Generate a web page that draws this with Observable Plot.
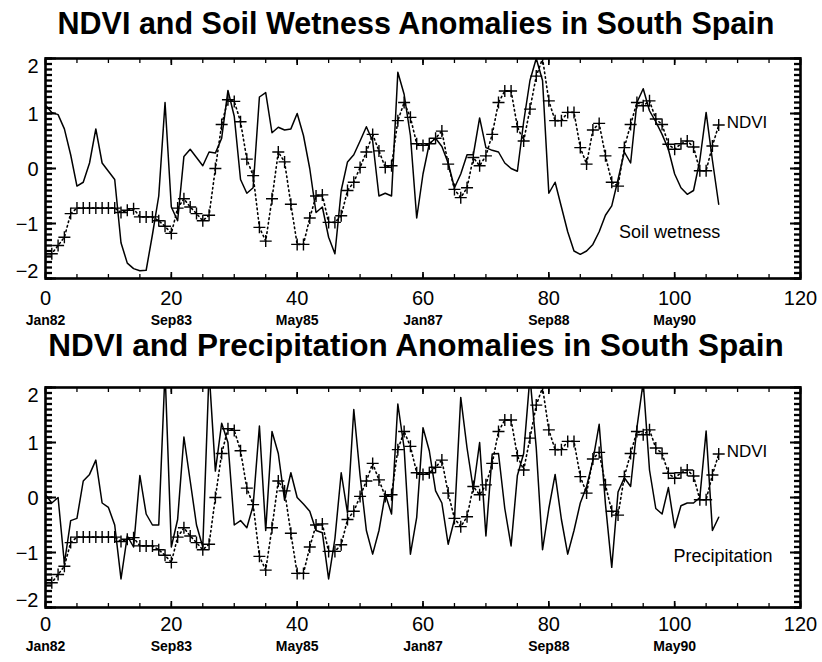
<!DOCTYPE html>
<html><head><meta charset="utf-8">
<script src="https://cdn.jsdelivr.net/npm/d3@7"></script>
<script src="https://cdn.jsdelivr.net/npm/@observablehq/plot@0.6"></script>
<style>
body{margin:0;background:#fff;}
#wrap{position:relative;width:822px;height:662px;overflow:hidden;background:#fff;font-family:"Liberation Sans",Arial,Helvetica,sans-serif;}
.title{position:absolute;left:5px;width:822px;text-align:center;font-weight:bold;color:#000;white-space:nowrap;}
.panel{position:absolute;left:0;}
</style></head><body>
<div id="wrap">
  <div class="title" style="top:8px;font-size:30.5px;line-height:1">NDVI and Soil Wetness Anomalies in South Spain</div>
  <div class="panel" id="p1" style="top:40px"></div>
  <div class="title" style="top:333px;font-size:31.5px;line-height:0.8">NDVI and Precipitation Anomalies in South Spain</div>
  <div class="panel" id="p2" style="top:370px"></div>
</div>
<script>
// month index 0 = Jan82
const ndvi = [-1.55,-1.55,-1.4,-1.25,-0.82,-0.72,-0.72,-0.72,-0.72,-0.72,
  -0.72,-0.72,-0.8,-0.76,-0.73,-0.88,-0.88,-0.88,-0.95,-1.05,
  -1.18,-0.72,-0.55,-0.7,-0.82,-0.95,-0.85,0.0,0.8,1.25,
  1.22,0.85,0.17,-0.13,-1.07,-1.32,-0.55,0.3,0.12,-0.65,
  -1.38,-1.38,-0.9,-0.5,-0.48,-0.98,-0.98,-0.86,-0.4,-0.25,
  0.02,0.3,0.62,0.32,0.02,0.05,0.87,1.2,0.93,0.45,
  0.42,0.45,0.55,0.68,0.08,-0.38,-0.53,-0.35,0.2,0.05,
  0.23,0.62,1.2,1.41,1.41,0.76,0.5,1.08,1.68,2.0,
  1.23,0.87,0.87,1.02,1.02,0.38,0.08,0.7,0.82,0.23,
  -0.25,-0.32,0.38,0.8,1.2,1.14,1.23,0.9,0.8,0.44,
  0.35,0.45,0.5,0.39,-0.04,-0.04,0.41,0.79];
const soilWetness = [1.15,1.02,0.98,0.72,0.25,-0.32,-0.25,0.1,0.72,0.1,
  -0.05,-0.2,-1.35,-1.72,-1.82,-1.86,-1.85,-1.2,-0.5,1.2,
  -0.7,-0.95,0.22,0.35,0.2,0.05,0.3,0.28,0.55,1.42,
  0.95,-0.2,-0.45,-0.35,1.3,1.38,0.65,0.75,0.7,0.72,
  1.0,0.6,0.0,-0.8,-0.7,-1.25,-1.55,-0.4,0.12,0.25,
  0.5,0.76,0.5,-0.5,-0.45,-0.5,1.75,1.35,0.6,-0.9,
  -0.1,0.45,0.55,0.4,0.1,-0.35,-0.1,0.25,0.25,0.92,
  0.38,0.33,0.3,0.1,0.0,-0.05,0.85,1.6,2.0,1.6,
  -0.45,-0.25,-0.7,-1.15,-1.5,-1.56,-1.5,-1.38,-1.15,-0.85,
  -0.68,-0.2,0.3,0.1,1.2,1.45,1.05,0.85,0.62,0.35,
  -0.1,-0.35,-0.47,-0.4,0.15,1.02,0.15,-0.65];
const precipitation = [0.05,-0.1,0.0,-1.2,-0.42,-0.38,0.3,0.42,0.68,-0.1,
  -0.18,-0.5,-1.48,-0.7,-0.9,0.4,-0.3,-0.5,-0.5,2.3,
  -0.9,-0.4,1.1,0.3,-0.5,-0.9,2.3,0.48,1.35,1.0,
  -0.5,-0.42,-0.55,-0.15,1.3,-0.6,1.2,0.8,-0.05,0.45,
  0.0,-0.12,-0.25,-0.6,-0.64,-1.48,-0.75,0.45,-0.28,1.6,
  0.4,-0.6,-1.03,-0.6,0.06,-0.3,1.7,0.9,-1.03,-0.36,
  1.27,0.85,0.12,-0.1,-0.85,-0.4,1.82,0.9,0.15,1.0,
  -0.7,0.79,0.8,-0.2,-0.88,0.4,0.8,2.2,0.9,-0.95,
  -0.2,0.42,-0.4,-1.03,-0.6,-0.1,0.2,0.67,1.33,-0.12,
  -1.27,0.1,0.36,0.2,1.27,2.1,0.5,-0.2,-0.3,0.18,
  -0.55,-0.15,-0.1,-0.1,0.0,1.21,-0.6,-0.36];

const xTicks = [0, 20, 40, 60, 80, 100, 120];
const xTickLabels = ["0", "20", "40", "60", "80", "100", "120"];
const dateTicks = [0, 20, 40, 60, 80, 100];
const dateLabels = ["Jan82", "Sep83", "May85", "Jan87", "Sep88", "May90"];
const yTicks = [-2, -1, 0, 1, 2];
const yTickLabels = ["\u22122", "\u22121", "0", "1", "2"];
const xMinorTicks = d3.range(0, 121, 5);
const yMinorTicks = d3.range(-20, 21).map(i => i / 10);

const thinPlus = {
  draw(ctx, size) {
    const r = Math.sqrt(size / Math.PI);
    ctx.moveTo(-r, 0); ctx.lineTo(r, 0);
    ctx.moveTo(0, -r); ctx.lineTo(0, r);
  }
};

const W = 822, ML = 45, MR = 22;

function inwardTicksY(ticks, size, sw) {
  return ["left", "right"].map(anchor =>
    Plot.axisY(ticks, {anchor, tickSize: -size, tickFormat: () => "", label: null, stroke: "black", strokeWidth: sw}));
}
function inwardTicksX(ticks, size, sw) {
  return ["top", "bottom"].map(anchor =>
    Plot.axisX(ticks, {anchor, tickSize: -size, tickFormat: () => "", label: null, stroke: "black", strokeWidth: sw}));
}

function panel(series, label, labelX, labelY, o) {
  const sData = series.map((v, i) => ({m: i, v}));
  const nData = ndvi.map((v, i) => ({m: i, v}));
  const last = nData[nData.length - 1];
  return Plot.plot({
    width: W, height: o.height,
    marginLeft: ML, marginRight: MR, marginTop: o.marginTop, marginBottom: o.marginBottom,
    x: {domain: [0, 120]},
    y: {domain: [-2, 2]},
    style: {fontFamily: '"Liberation Sans", Arial, Helvetica, sans-serif', background: "white", color: "black", overflow: "visible"},
    marks: [
      // inward minor / major ticks
      ...inwardTicksY(yMinorTicks, 7, 2.3),
      ...inwardTicksY(yTicks, 11, 2),
      ...inwardTicksX(xMinorTicks, 4, 1.3),
      ...inwardTicksX(xTicks, 6, 1.7),
      // series
      Plot.line(sData, {x: "m", y: "v", stroke: "black", strokeWidth: 1.5, clip: true}),
      Plot.line(nData, {x: "m", y: "v", stroke: "black", strokeWidth: 1.6, strokeDasharray: "1.5 3.2", clip: true}),
      Plot.dot(nData, {x: "m", y: "v", symbol: thinPlus, r: 6, fill: "none", stroke: "black", strokeWidth: 1.4, clip: true}),
      Plot.frame({stroke: "black", strokeWidth: 2.6}),
      // labels
      Plot.text([last], {x: "m", y: "v", text: () => "NDVI", textAnchor: "start", dx: 8, dy: -3, fontSize: 17, fill: "black"}),
      Plot.text([label], {x: () => labelX, y: () => labelY, text: d => d, textAnchor: "middle", fontSize: 18, fill: "black"}),
      // tick labels
      Plot.text(xTicks, {x: d => d, frameAnchor: "bottom", dy: o.numDy, lineAnchor: "middle", text: (d, i) => xTickLabels[i], fontSize: 20, fill: "black"}),
      Plot.text(dateTicks, {x: d => d, frameAnchor: "bottom", dy: o.dateDy, lineAnchor: "middle", text: (d, i) => dateLabels[i], fontSize: 14, fontWeight: "bold", fill: "black"}),
      Plot.text([yTicks[4]], {y: d => d, frameAnchor: "left", dx: -7, dy: 8, textAnchor: "end", text: () => yTickLabels[4], fontSize: 20, fill: "black"}),
      Plot.text(yTicks.slice(1, 4), {y: d => d, frameAnchor: "left", dx: -7, dy: 1, textAnchor: "end", text: (d, i) => yTickLabels[i + 1], fontSize: 20, fill: "black"}),
      Plot.text([yTicks[0]], {y: d => d, frameAnchor: "left", dx: -7, dy: -7, textAnchor: "end", text: () => yTickLabels[0], fontSize: 20, fill: "black"})
    ]
  });
}

document.getElementById("p1").append(panel(soilWetness, "Soil wetness", 99.2, -1.15,
  {height: 290, marginTop: 18, marginBottom: 52, numDy: 20, dateDy: 42}));
document.getElementById("p2").append(panel(precipitation, "Precipitation", 107.7, -1.06,
  {height: 292, marginTop: 17, marginBottom: 55, numDy: 17, dateDy: 39}));
</script>
</body></html>
